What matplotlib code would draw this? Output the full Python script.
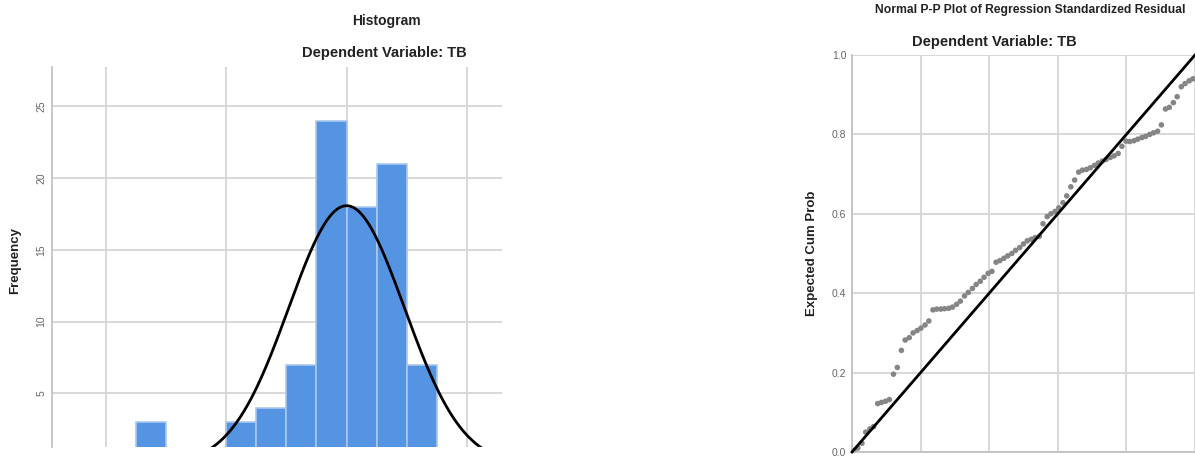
import numpy as np
import matplotlib
matplotlib.use("Agg")
import matplotlib.pyplot as plt

# ---------------- data ----------------
bin_left = [-3.5, -2.0, -1.5, -1.0, -0.5, 0.0, 0.5, 1.0]
bin_counts = [3, 3, 4, 7, 24, 18, 21, 7]
bin_width = 0.5
curve_mean = 0.0
curve_sd = 0.96
n_cases = 87

hist_yticks = [5, 10, 15, 20, 25]
hist_xgrid = [-4, -2, 0, 2]

pp_observed = [0.006, 0.017, 0.029, 0.040, 0.052, 0.063, 0.075, 0.086, 0.098, 0.109,
               0.121, 0.132, 0.144, 0.155, 0.167, 0.178, 0.190, 0.201, 0.213, 0.224,
               0.236, 0.247, 0.259, 0.270, 0.282, 0.293, 0.305, 0.316, 0.328, 0.339,
               0.351, 0.362, 0.374, 0.385, 0.397, 0.408, 0.420, 0.431, 0.443, 0.454,
               0.466, 0.477, 0.489, 0.500, 0.511, 0.523, 0.534, 0.546, 0.557, 0.569,
               0.580, 0.592, 0.603, 0.615, 0.626, 0.638, 0.649, 0.661, 0.672, 0.684,
               0.695, 0.707, 0.718, 0.730, 0.741, 0.753, 0.764, 0.776, 0.787, 0.799,
               0.810, 0.822, 0.833, 0.845, 0.856, 0.868, 0.879, 0.891, 0.902, 0.914,
               0.925, 0.937, 0.948, 0.960, 0.971, 0.983, 0.994]
pp_expected = [0.004, 0.010, 0.022, 0.050, 0.058, 0.064, 0.122, 0.125, 0.128, 0.132,
               0.196, 0.213, 0.256, 0.282, 0.288, 0.300, 0.306, 0.312, 0.320, 0.330,
               0.358, 0.360, 0.360, 0.361, 0.362, 0.365, 0.372, 0.380, 0.393, 0.402,
               0.412, 0.422, 0.430, 0.440, 0.450, 0.455, 0.478, 0.482, 0.488, 0.494,
               0.500, 0.508, 0.515, 0.524, 0.532, 0.536, 0.540, 0.543, 0.575, 0.593,
               0.600, 0.606, 0.615, 0.628, 0.645, 0.668, 0.685, 0.705, 0.710, 0.712,
               0.716, 0.722, 0.728, 0.733, 0.737, 0.742, 0.746, 0.752, 0.770, 0.783,
               0.782, 0.784, 0.788, 0.792, 0.795, 0.800, 0.804, 0.808, 0.824, 0.864,
               0.868, 0.880, 0.895, 0.920, 0.928, 0.935, 0.940]
pp_ticks = [0.0, 0.2, 0.4, 0.6, 0.8, 1.0]
pp_ticklabels = ["0.0", "0.2", "0.4", "0.6", "0.8", "1.0"]

# ---------------- figure ----------------
W, H = 1195, 459
fig = plt.figure(figsize=(W / 100, H / 100), dpi=100)
fig.patch.set_facecolor("white")
plt.rcParams['font.family'] = ['Liberation Sans', 'DejaVu Sans']

grid_col = "#d6d6d6"
tick_col = "#666666"
title_col = "#222222"

def ax_rect(x0, y0, x1, y1):
    return [x0 / W, 1 - y1 / H, (x1 - x0) / W, (y1 - y0) / H]

# ---- Histogram ----
ax1 = fig.add_axes(ax_rect(52, 67, 502, 447))
ax1.set_xlim(-4.89, 2.58)
ax1.set_ylim(1.25, 27.75)
for s in ["top", "right", "bottom"]:
    ax1.spines[s].set_visible(False)
ax1.spines["left"].set_color("#bdbdbd")
ax1.spines["left"].set_linewidth(1.2)
ax1.set_axisbelow(True)
ax1.set_yticks(hist_yticks)
ax1.set_xticks(hist_xgrid)
ax1.grid(True, color=grid_col, linewidth=1.3)
ax1.tick_params(axis="x", length=0, labelbottom=False)
ax1.tick_params(axis="y", length=0, pad=4, labelsize=7.5, labelcolor=tick_col)
for lab in ax1.get_yticklabels():
    lab.set_rotation(90)
    lab.set_va("center")
ax1.bar(bin_left, bin_counts, width=bin_width, align="edge",
        color="#5594e2", edgecolor="#a9c8f0", linewidth=1.2, zorder=2)
xs = np.linspace(-4.89, 2.58, 400)
ys = n_cases * bin_width / (curve_sd * np.sqrt(2 * np.pi)) * np.exp(-0.5 * ((xs - curve_mean) / curve_sd) ** 2)
ax1.plot(xs, ys, color="black", linewidth=2.0, zorder=3)
ax1.set_ylabel("Frequency", fontsize=9.5, fontweight="bold", color=title_col)
ax1.yaxis.set_label_coords(-0.069, 0.49)

fig.text(386 / W, 1 - 21 / H, "Histogram", ha="center", va="center",
         fontsize=10, fontweight="bold", color=title_col)
fig.text(384 / W, 1 - 53 / H, "Dependent Variable: TB", ha="center", va="center",
         fontsize=10.5, fontweight="bold", color=title_col)

# ---- P-P plot ----
ax2 = fig.add_axes(ax_rect(852, 55, 1195, 452))
ax2.set_xlim(0, 1.0)
ax2.set_ylim(0, 1.0)
for s in ["top", "right"]:
    ax2.spines[s].set_visible(False)
for s in ["left", "bottom"]:
    ax2.spines[s].set_color("#bdbdbd")
    ax2.spines[s].set_linewidth(1.2)
ax2.set_axisbelow(True)
ax2.set_xticks(pp_ticks)
ax2.set_yticks(pp_ticks)
ax2.set_yticklabels(pp_ticklabels)
ax2.grid(True, color=grid_col, linewidth=1.3)
ax2.tick_params(axis="x", length=0, labelbottom=False)
ax2.tick_params(axis="y", length=0, pad=4, labelsize=7.5, labelcolor=tick_col)
ax2.plot([0, 1], [0, 1], color="black", linewidth=2.0, zorder=3, clip_on=False)
ax2.scatter(pp_observed, pp_expected, s=16, color="#858585", edgecolors="none",
            zorder=2, clip_on=False)
ax2.set_ylabel("Expected Cum Prob", fontsize=9.5, fontweight="bold", color=title_col)
ax2.yaxis.set_label_coords(-0.099, 0.5)

fig.text(1030 / W, 1 - 10 / H, "Normal P-P Plot of Regression Standardized Residual",
         ha="center", va="center", fontsize=8.7, fontweight="bold", color=title_col)
fig.text(994 / W, 1 - 42 / H, "Dependent Variable: TB", ha="center", va="center",
         fontsize=10.5, fontweight="bold", color=title_col)

fig.savefig("out.png", dpi=100, facecolor="white")
